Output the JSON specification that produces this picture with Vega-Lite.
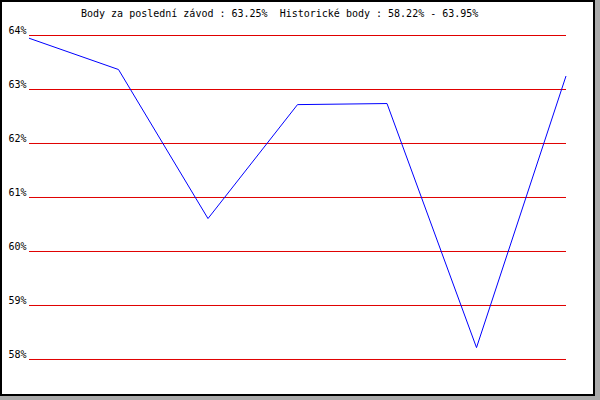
{
  "$schema": "https://vega.github.io/schema/vega-lite/v6.json",
  "autosize": {"type": "none"},
  "padding": {"left": 1, "top": 1, "right": 6, "bottom": 5},
  "width": 593,
  "height": 394,
  "background": "#aaaaaa",
  "config": {
    "view": {"stroke": "black", "strokeWidth": 2, "fill": "white"},
    "font": "DejaVu Sans Mono"
  },
  "title": {
    "text": "Body za poslední závod : 63.25% \u00a0Historické body : 58.22% - 63.95%",
    "anchor": "start",
    "frame": "group",
    "orient": "top",
    "offset": 0,
    "dx": 80,
    "dy": 26,
    "baseline": "alphabetic",
    "font": "DejaVu Sans Mono",
    "fontSize": 10,
    "fontWeight": "normal",
    "color": "black"
  },
  "datasets": {
    "points": [
      {"race": 0, "score": 63.95},
      {"race": 1, "score": 63.37},
      {"race": 2, "score": 60.61},
      {"race": 3, "score": 62.72},
      {"race": 4, "score": 62.74},
      {"race": 5, "score": 58.22},
      {"race": 6, "score": 63.25}
    ],
    "grid": [
      {"level": 58}, {"level": 59}, {"level": 60}, {"level": 61},
      {"level": 62}, {"level": 63}, {"level": 64}
    ]
  },
  "layer": [
    {
      "data": {"name": "grid"},
      "mark": {"type": "rule", "color": "#e00000", "strokeWidth": 1},
      "encoding": {
        "y": {
          "field": "level",
          "type": "quantitative",
          "scale": {"domain": [57.34259, 64.63889], "nice": false, "zero": false},
          "axis": {
            "values": [58, 59, 60, 61, 62, 63, 64],
            "labelExpr": "datum.value + '%'",
            "domain": false,
            "ticks": false,
            "grid": false,
            "title": null,
            "offset": -26,
            "labelPadding": 1,
            "labelAlign": "right",
            "labelBaseline": "alphabetic",
            "labelOffset": -2,
            "labelFont": "DejaVu Sans Mono",
            "labelFontSize": 10,
            "labelColor": "black",
            "labelOverlap": false,
            "labelBound": false,
            "labelFlush": false
          }
        },
        "x": {"datum": 0, "type": "quantitative", "scale": {"domain": [-0.3128, 6.3128], "nice": false, "zero": false}, "axis": null},
        "x2": {"datum": 6}
      }
    },
    {
      "data": {"name": "points"},
      "mark": {"type": "line", "color": "#0000ff", "strokeWidth": 1},
      "encoding": {
        "x": {"field": "race", "type": "quantitative", "axis": null},
        "y": {"field": "score", "type": "quantitative"}
      }
    }
  ]
}
